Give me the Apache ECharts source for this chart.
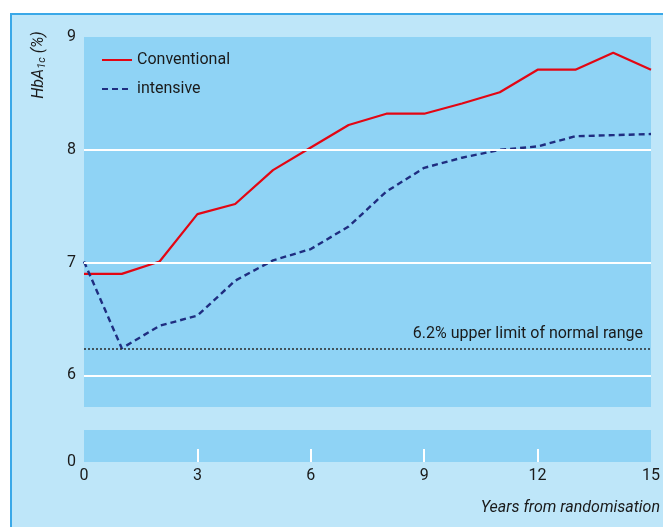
<!DOCTYPE html>
<html>
<head>
<meta charset="utf-8">
<script src="https://cdn.jsdelivr.net/npm/echarts@6/dist/echarts.min.js"></script>
<style>
html,body{margin:0;padding:0;background:#ffffff;}
#frame{position:absolute;left:10px;top:13px;width:663px;height:527px;background:#bee6f9;border-left:2px solid #3aa8e8;border-top:2px solid #3aa8e8;box-sizing:border-box;}
#chart{position:absolute;left:0;top:0;width:663px;height:527px;}
</style>
</head>
<body>
<div id="frame"></div>
<div id="chart"></div>
<script>
const years = [0,1,2,3,4,5,6,7,8,9,10,11,12,13,14,15];
const conventional = [6.90,6.90,7.01,7.43,7.52,7.82,8.02,8.22,8.32,8.32,8.41,8.51,8.71,8.71,8.86,8.71];
const intensive = [7.01,6.24,6.44,6.53,6.84,7.02,7.12,7.32,7.63,7.84,7.93,8.00,8.03,8.12,8.13,8.14];
const normalLimit = 6.24;
const yTicks = [6,7,8,9];
const gridLines = [6,7,8];
const xTicks = [3,6,9,12];

const FONT = "Roboto,'Liberation Sans',sans-serif";
const TXT = '#1a1a1a';
const PLOT = '#8fd3f5';

const chart = echarts.init(document.getElementById('chart'));
chart.setOption({
  backgroundColor: 'transparent',
  animation: false,
  textStyle: {fontFamily: FONT},
  grid: [
    {left: 84, right: 12, top: 37, height: 370, show: true, backgroundColor: PLOT, borderWidth: 0},
    {left: 84, right: 12, top: 430, height: 32, show: true, backgroundColor: PLOT, borderWidth: 0}
  ],
  xAxis: [
    {gridIndex: 0, type: 'value', min: 0, max: 15, show: false},
    {gridIndex: 1, type: 'value', min: 0, max: 15, interval: 3,
     axisLine: {show: false},
     axisTick: {show: true, inside: true, length: 13, lineStyle: {color: '#ffffff', width: 2}, customValues: xTicks},
     axisLabel: {color: TXT, fontSize: 16, margin: 6, fontFamily: FONT},
     splitLine: {show: false}}
  ],
  yAxis: [
    {gridIndex: 0, type: 'value', min: 5.72, max: 9,
     axisLine: {show: false}, axisTick: {show: false}, splitLine: {show: false},
     axisLabel: {color: TXT, fontSize: 16, margin: 8, fontFamily: FONT, customValues: yTicks}},
    {gridIndex: 1, type: 'value', min: 0, max: 1, interval: 1,
     axisLine: {show: false}, axisTick: {show: false}, splitLine: {show: false},
     axisLabel: {color: TXT, fontSize: 16, margin: 8, fontFamily: FONT,
       formatter: v => v === 0 ? '0' : ''}}
  ],
  legend: {
    orient: 'vertical', left: 101, top: 51, padding: 0, itemWidth: 30, itemHeight: 14, itemGap: 11,
    itemStyle: {opacity: 0, borderWidth: 0},
    textStyle: {color: TXT, fontSize: 16, lineHeight: 18, fontFamily: FONT},
    data: ['Conventional', 'intensive']
  },
  graphic: [
    {type: 'text', x: 39, y: 65, rotation: Math.PI / 2,
     style: {text: 'HbA{s|1c} (%)', fill: TXT, font: 'italic 16px ' + FONT, align: 'center', verticalAlign: 'middle',
       rich: {s: {fontSize: 11, fontStyle: 'italic', fontFamily: FONT, fill: TXT, verticalAlign: 'bottom', padding: [6,0,0,0]}}}},
    {type: 'text', right: 3, top: 500,
     style: {text: 'Years from randomisation', fill: TXT, font: 'italic 16px ' + FONT}}
  ],
  series: [
    {name: 'grid', type: 'line', xAxisIndex: 0, yAxisIndex: 0, data: [], silent: true,
     markLine: {silent: true, symbol: 'none', label: {show: false},
       lineStyle: {color: '#ffffff', width: 2, type: 'solid'},
       data: gridLines.map(v => ({yAxis: v}))}},
    {name: 'limit', type: 'line', xAxisIndex: 0, yAxisIndex: 0, data: [], silent: true,
     markLine: {silent: true, symbol: 'none',
       lineStyle: {color: '#2a2a2a', width: 1.5, type: [2, 2]},
       label: {show: true, position: 'insideEndTop', distance: [8, 6], formatter: '6.2% upper limit of normal range',
         color: TXT, fontSize: 16, fontFamily: FONT},
       data: [{yAxis: normalLimit}]}},
    {name: 'Conventional', type: 'line', xAxisIndex: 0, yAxisIndex: 0, symbol: 'none',
     lineStyle: {color: '#e30613', width: 2.2}, itemStyle: {color: '#e30613'},
     data: years.map((y, i) => [y, conventional[i]])},
    {name: 'intensive', type: 'line', xAxisIndex: 0, yAxisIndex: 0, symbol: 'none',
     lineStyle: {color: '#1f2d80', width: 2.4, type: [6, 4]}, itemStyle: {color: '#1f2d80'},
     data: years.map((y, i) => [y, intensive[i]])}
  ]
});
</script>
</body>
</html>
